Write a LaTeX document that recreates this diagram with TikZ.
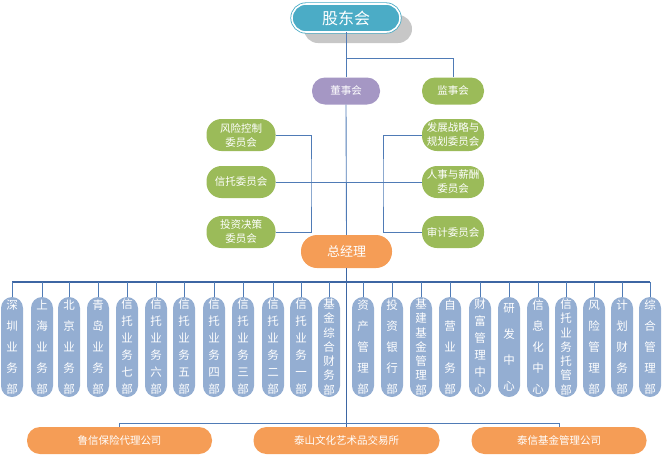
\documentclass[tikz,border=0pt]{standalone}
\usepackage{fontspec}
\newfontfamily\cjk{Noto Sans CJK SC}
\usetikzlibrary{shadows}

\definecolor{linec}{HTML}{4F7BB6}
\definecolor{trunkc}{HTML}{3D66A3}
\definecolor{tealc}{HTML}{4BACC6}
\definecolor{boardc}{HTML}{A597C4}
\definecolor{greenc}{HTML}{9BBB59}
\definecolor{orangec}{HTML}{F59D56}
\definecolor{deptc}{HTML}{94AED2}

\begin{document}
\begin{tikzpicture}[
  x=1pt, y=-1pt,
  conn/.style={draw=linec, line width=0.9pt},
  trunk/.style={draw=trunkc, line width=1.6pt},
  pill/.style={text=white, align=center, inner sep=2pt, font=\cjk\fontsize{10.5}{14}\selectfont},
  gdbox/.style={pill, fill=tealc, draw=tealc, double=white, double distance=1.6pt, line width=0.8pt,
    rounded corners=14pt, minimum width=108pt, minimum height=28pt, font=\cjk\fontsize{16}{18}\selectfont,
    drop shadow={shadow xshift=12pt, shadow yshift=-11pt, fill=black!22, opacity=1}},
  board/.style={pill, fill=boardc, rounded corners=13pt, minimum width=68pt, minimum height=27pt},
  super/.style={board, fill=greenc, minimum width=62pt},
  cmte/.style={pill, fill=greenc, rounded corners=15pt, minimum height=32pt},
  gmbox/.style={pill, fill=orangec, rounded corners=16pt, minimum width=91pt, minimum height=33pt,
    font=\cjk\fontsize{13}{15}\selectfont},
  dept/.style={text=white, fill=deptc, rounded corners=11pt, align=center, inner xsep=0pt, inner ysep=0pt,
    minimum width=22pt, minimum height=100pt},
  firm/.style={pill, fill=orangec, rounded corners=13pt, minimum height=27pt}
]
  \useasboundingbox (0,0) rectangle (662,456);

  \node[gdbox] (gd) at (346,18) {股东会};
  \node[board] (bd) at (346,91) {董事会};
  \node[super] (js) at (453,91) {监事会};

  % committees
  \node[cmte, minimum width=69pt] (fk) at (241,135) {风险控制\\委员会};
  \node[cmte, minimum width=69pt] (xt) at (241,182) {信托委员会};
  \node[cmte, minimum width=69pt] (tz) at (241,232) {投资决策\\委员会};
  \node[cmte, minimum width=62pt] (fz) at (453,135) {发展战略与\\规划委员会};
  \node[cmte, minimum width=62pt] (rs) at (453,182) {人事与薪酬\\委员会};
  \node[cmte, minimum width=62pt] (sj) at (453,232) {审计委员会};

  \node[gmbox] (gm) at (346.5,251.5) {总经理};

  % departments
  \foreach \x/\s/\t [count=\i] in {
    12/21/{深\\圳\\业\\务\\部},
    42/21/{上\\海\\业\\务\\部},
    69/21/{北\\京\\业\\务\\部},
    98/21/{青\\岛\\业\\务\\部},
    127/17/{信\\托\\业\\务\\七\\部},
    156/17/{信\\托\\业\\务\\六\\部},
    184/17/{信\\托\\业\\务\\五\\部},
    214/17/{信\\托\\业\\务\\四\\部},
    243/17/{信\\托\\业\\务\\三\\部},
    273/17/{信\\托\\业\\务\\二\\部},
    301/17/{信\\托\\业\\务\\一\\部},
    329/14.3/{基\\金\\综\\合\\财\\务\\部},
    363/21/{资\\产\\管\\理\\部},
    392/21/{投\\资\\银\\行\\部},
    421/14.3/{基\\建\\基\\金\\管\\理\\部},
    450/21/{自\\营\\业\\务\\部},
    480/17/{财\\富\\管\\理\\中\\心},
    509/26/{研\\发\\中\\心},
    538/21/{信\\息\\化\\中\\心},
    566/14.3/{信\\托\\业\\务\\托\\管\\部},
    594/21/{风\\险\\管\\理\\部},
    622/21/{计\\划\\财\\务\\部},
    650/21/{综\\合\\管\\理\\部}}
    \node[dept, font=\cjk\fontsize{11.5}{\s}\selectfont] (d\i) at (\x,347) {\t};

  % subsidiaries
  \node[firm, minimum width=185pt] (lx) at (119.5,440.5) {鲁信保险代理公司};
  \node[firm, minimum width=186pt] (ts) at (346.5,440.5) {泰山文化艺术品交易所};
  \node[firm, minimum width=175pt] (tx) at (559,440.5) {泰信基金管理公司};

  \coordinate (fork) at (346,58);
  \coordinate (lbar) at (311,182);
  \coordinate (rbar) at (383,182);
  \coordinate (bus) at (346,282);
  \coordinate (sub) at (346,423);

  \draw[conn] (gd.south) -- (bd.north);
  \draw[conn] (fork) -| (js.north);
  \draw[conn] (bd.south) -- (gm.north);
  \draw[conn] (fk.east) -| (lbar) |- (tz.east);
  \draw[conn] (fz.west) -| (rbar) |- (sj.west);
  \draw[conn] (xt.east) -- (rs.west);
  \draw[trunk] (gm.south) -- (ts.north);
  \draw[trunk, line width=1.2pt] (d1 |- bus) -- (d23 |- bus);
  \foreach \i in {1,...,23}
    \draw[conn] (d\i |- bus) -- (d\i.north);
  \draw[conn] (lx.north |- sub) -- (tx.north |- sub);
  \draw[conn] (lx.north |- sub) -- (lx.north);
  \draw[conn] (tx.north |- sub) -- (tx.north);
\end{tikzpicture}
\end{document}
